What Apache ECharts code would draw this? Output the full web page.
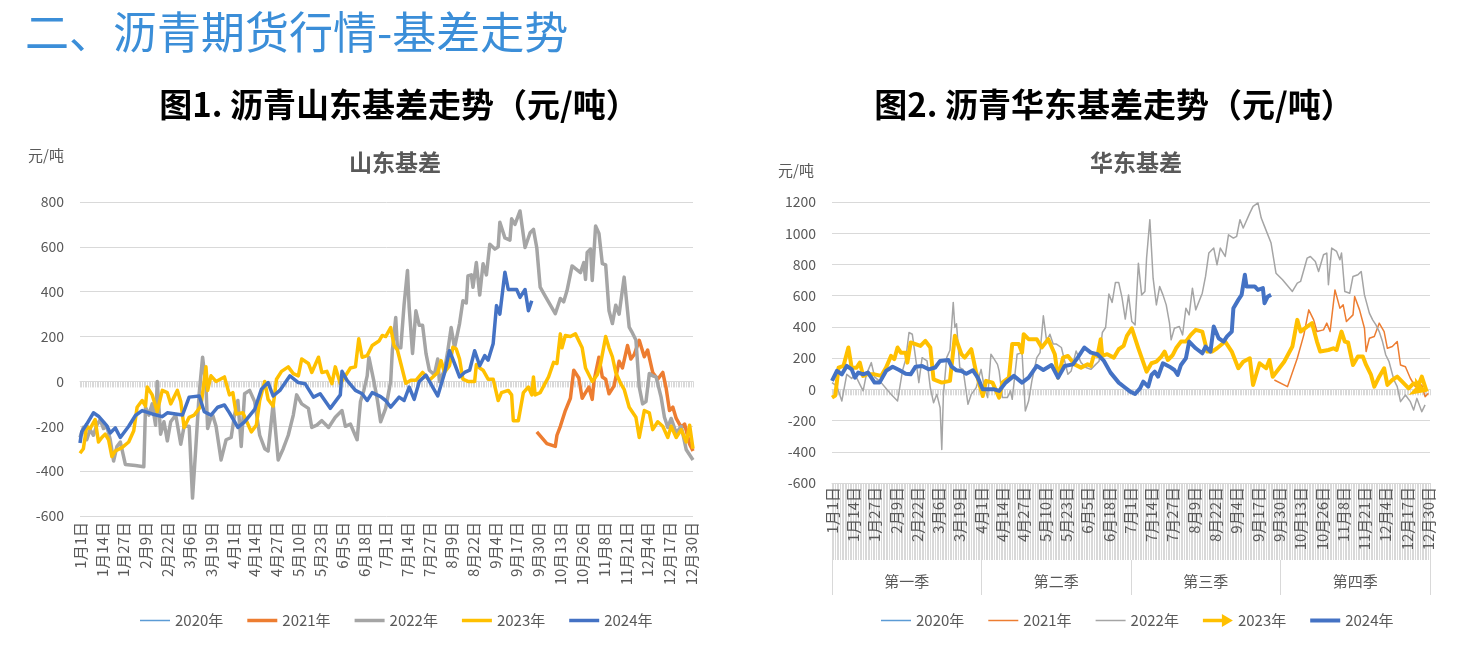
<!DOCTYPE html>
<html><head><meta charset="utf-8">
<script src="https://cdn.jsdelivr.net/npm/echarts@6/dist/echarts.min.js"></script>
<style>html,body{margin:0;padding:0;background:#fff}#c{width:1466px;height:652px}</style>
</head><body><div id="c"></div>
<script>
// ---- categories (leap-year calendar days, labelled every 13th day) ----
const monthDays = [31,29,31,30,31,30,31,31,30,31,30,31];
const dayCategories = [];
monthDays.forEach(function(n,i){ for (let d=1; d<=n; d++) dayCategories.push((i+1)+'月'+d+'日'); });
const quarterCategories = ['第一季','第二季','第三季','第四季'];
const seriesNames = ['2020年','2021年','2022年','2023年','2024年'];
const seriesColors = ['#5B9BD5','#ED7D31','#A5A5A5','#FFC000','#4472C4'];

// ---- 山东基差 : [day index, 元/吨] ----
const sd2020 = [];
const sd2021 = [[272,-225],[278,-277],[283,-290],[284,-240],[286,-200],[289,-130],[292,-75],[294,50],[297,15],[299,-75],[301,-50],[303,-25],[305,-80],[306,0],[309,108],[311,20],[313,10],[315,-55],[318,-20],[321,90],[323,60],[326,160],[328,100],[330,120],[333,183],[336,110],[338,140],[341,40],[344,10],[347,40],[349,-30],[351,-130],[353,-115],[355,-165],[358,-205],[360,-190],[363,-280],[365,-310]];
const sd2022 = [[0,-250],[2,-205],[4,-260],[6,-215],[8,-240],[10,-195],[12,-170],[14,-210],[16,-200],[18,-260],[20,-355],[22,-290],[24,-270],[27,-370],[33,-375],[38,-380],[39,-115],[41,-150],[43,-100],[45,-195],[46,0],[48,-235],[50,-180],[52,-265],[54,-180],[57,-150],[60,-280],[62,-200],[65,-200],[67,-520],[69,-290],[71,-50],[73,108],[75,-20],[76,-210],[78,-160],[79,-150],[81,-200],[84,-350],[87,-260],[90,-250],[92,-150],[94,-85],[96,-290],[98,-55],[101,-40],[104,-90],[107,-240],[110,-300],[112,-310],[115,-100],[118,-350],[121,-300],[124,-240],[127,-150],[129,-60],[132,-100],[136,-120],[138,-205],[141,-195],[144,-175],[148,-205],[152,-160],[156,-130],[158,-200],[161,-190],[165,-260],[167,-90],[169,-40],[171,25],[172,108],[175,0],[177,-80],[179,-180],[182,-120],[185,0],[186,140],[188,285],[189,150],[191,150],[193,345],[195,495],[196,330],[198,125],[200,315],[202,250],[204,250],[206,125],[208,50],[211,30],[213,100],[214,0],[217,50],[219,137],[221,240],[223,150],[226,258],[228,360],[230,350],[231,470],[233,475],[234,420],[236,530],[238,385],[240,525],[242,475],[244,612],[247,590],[249,600],[250,710],[253,640],[256,630],[257,725],[259,700],[262,760],[265,597],[268,663],[270,678],[272,595],[274,420],[277,380],[283,302],[286,370],[288,355],[290,405],[293,515],[298,485],[300,530],[301,455],[302,575],[304,590],[305,450],[307,693],[309,660],[311,525],[313,520],[315,315],[317,258],[319,340],[321,300],[324,465],[327,242],[329,215],[331,185],[333,-25],[335,-100],[337,-90],[339,35],[341,25],[343,20],[346,-70],[348,-160],[350,-205],[352,-165],[355,-230],[358,-200],[361,-305],[365,-350]];
const sd2023 = [[0,-320],[2,-300],[4,-200],[6,-210],[9,-170],[11,-270],[13,-250],[15,-235],[17,-260],[19,-335],[21,-310],[25,-295],[29,-270],[32,-220],[34,-115],[37,-85],[39,-110],[40,-25],[43,-60],[46,-135],[49,-40],[52,-50],[54,-100],[58,-40],[60,-90],[62,-205],[65,-160],[68,-150],[72,-110],[75,65],[76,-40],[78,25],[81,0],[86,20],[89,-60],[91,-50],[93,-145],[97,-140],[102,-225],[105,-195],[107,-85],[110,0],[112,-80],[115,-110],[117,10],[120,45],[124,65],[127,35],[130,25],[132,100],[136,80],[138,40],[142,108],[144,40],[147,45],[150,-10],[152,65],[155,-10],[158,25],[161,60],[164,65],[166,190],[168,108],[171,115],[174,160],[178,180],[180,205],[182,200],[185,240],[187,160],[189,140],[194,-8],[197,5],[200,5],[204,40],[208,5],[213,40],[215,93],[217,40],[220,70],[222,152],[224,145],[226,100],[228,10],[231,0],[235,0],[236,75],[238,60],[240,50],[243,10],[246,10],[249,-85],[251,-50],[255,-40],[257,-60],[258,-175],[261,-175],[264,-50],[267,-25],[269,-60],[270,20],[271,-60],[274,-50],[279,20],[282,85],[284,80],[286,212],[287,150],[289,205],[292,200],[295,212],[299,150],[301,60],[303,30],[305,0],[308,30],[310,80],[313,200],[315,150],[317,110],[319,40],[322,-10],[324,-35],[327,-115],[331,-160],[333,-250],[336,-130],[339,-140],[341,-215],[344,-180],[347,-200],[350,-250],[352,-200],[355,-250],[358,-215],[361,-270],[363,-195],[365,-300]];
const sd2024 = [[0,-275],[1,-225],[4,-190],[8,-140],[11,-155],[14,-180],[16,-198],[18,-230],[21,-207],[24,-250],[29,-200],[33,-152],[37,-130],[43,-145],[49,-157],[52,-140],[57,-145],[61,-150],[65,-70],[71,-65],[74,-135],[78,-150],[82,-115],[86,-105],[89,-140],[94,-205],[98,-180],[104,-125],[108,-35],[112,-5],[115,-65],[119,-40],[125,25],[130,-5],[134,-10],[139,-70],[143,-55],[149,-120],[155,-60],[156,45],[159,5],[164,-40],[168,-55],[171,-85],[174,-50],[179,-68],[182,-85],[185,-115],[190,-70],[193,-85],[196,-25],[199,-80],[202,0],[206,28],[210,-25],[213,-65],[217,35],[220,137],[223,80],[226,20],[229,40],[232,50],[235,137],[238,70],[241,115],[243,95],[246,168],[248,338],[250,300],[253,487],[255,410],[260,410],[262,375],[265,410],[267,315],[269,360]];

// ---- 华东基差 : [day index, 元/吨] ----
const hd2020 = [];
const hd2021 = [[270,60],[278,17],[284,199],[288,349],[291,509],[294,445],[296,370],[300,381],[302,424],[304,370],[307,637],[310,520],[312,541],[314,434],[318,477],[319,595],[322,509],[325,391],[326,242],[328,327],[331,338],[334,424],[337,370],[339,263],[342,274],[345,306],[347,156],[350,145],[353,71],[356,17],[360,28],[362,-47],[364,-26]];
const hd2022 = [[0,43],[3,20],[6,-75],[9,96],[12,70],[14,96],[17,32],[19,-10],[21,96],[24,171],[26,80],[30,43],[36,-32],[40,-75],[43,118],[45,193],[47,364],[49,353],[51,203],[53,43],[55,203],[58,182],[60,11],[62,-86],[64,-32],[66,-118],[67,-385],[68,-32],[70,203],[72,250],[74,557],[75,396],[76,420],[78,139],[80,128],[83,-96],[85,-32],[88,11],[91,128],[93,11],[95,-53],[97,225],[99,193],[101,160],[102,118],[104,-53],[107,-53],[109,-10],[110,-64],[113,225],[116,235],[118,-139],[120,-75],[122,54],[125,203],[127,235],[129,471],[131,310],[133,353],[135,290],[137,290],[140,268],[144,96],[146,118],[149,246],[152,171],[155,140],[158,128],[161,160],[163,180],[165,364],[167,396],[169,610],[171,557],[173,685],[175,685],[177,589],[179,450],[181,605],[183,434],[185,413],[187,808],[189,605],[191,627],[192,840],[194,1087],[196,712],[198,541],[200,659],[202,605],[204,541],[206,424],[207,317],[209,391],[212,402],[214,349],[216,520],[218,477],[220,648],[222,509],[226,616],[228,723],[230,873],[233,905],[235,798],[237,905],[240,851],[242,990],[245,969],[247,980],[249,1087],[251,1033],[255,1129],[257,1172],[260,1194],[262,1097],[264,1044],[268,937],[271,744],[275,702],[281,627],[284,680],[286,691],[290,840],[292,851],[295,819],[297,755],[300,862],[302,873],[303,670],[305,905],[308,883],[310,830],[311,873],[313,627],[316,616],[318,723],[321,734],[323,755],[325,605],[328,488],[330,445],[332,413],[334,370],[336,306],[338,220],[340,177],[343,60],[345,17],[347,-79],[350,-36],[353,-79],[355,-133],[357,-58],[360,-143],[362,-100]];
const hd2023 = [[0,-53],[2,-40],[4,139],[7,150],[10,268],[12,139],[15,139],[17,171],[19,86],[21,96],[26,96],[30,86],[33,139],[36,214],[38,193],[40,268],[42,235],[45,235],[46,171],[48,300],[51,290],[54,278],[57,310],[60,268],[62,64],[67,43],[72,54],[75,343],[79,225],[81,203],[85,257],[88,107],[92,-43],[94,54],[98,43],[102,-53],[104,43],[108,75],[110,290],[114,290],[116,235],[117,353],[120,321],[125,321],[128,268],[132,321],[136,225],[138,75],[141,203],[144,214],[148,160],[152,139],[156,160],[158,150],[160,225],[162,214],[164,321],[165,214],[168,225],[172,203],[175,257],[178,278],[180,343],[183,391],[187,263],[192,113],[195,167],[198,177],[201,210],[203,242],[205,188],[208,220],[210,263],[213,306],[216,306],[219,349],[222,381],[226,370],[229,242],[232,242],[235,263],[240,306],[244,242],[248,135],[251,177],[255,199],[257,28],[261,167],[265,135],[267,188],[269,81],[276,177],[281,274],[284,445],[286,370],[290,402],[293,424],[296,306],[298,242],[303,252],[306,263],[308,252],[311,370],[313,306],[315,300],[318,156],[321,210],[324,210],[326,156],[329,92],[331,17],[334,81],[337,135],[339,28],[342,60],[345,81],[348,49],[352,6],[355,38],[358,28],[360,81],[363,-15]];
const hd2024 = [[0,54],[3,118],[6,96],[9,150],[12,128],[14,75],[16,107],[19,96],[22,107],[26,43],[29,43],[33,118],[37,145],[41,124],[45,100],[48,96],[51,145],[55,150],[59,128],[63,140],[66,182],[71,188],[73,145],[76,122],[79,118],[82,100],[86,122],[89,75],[92,0],[95,0],[99,0],[102,-10],[106,43],[111,86],[116,43],[120,75],[125,150],[129,124],[134,156],[138,75],[142,150],[147,160],[150,203],[154,268],[158,235],[162,225],[166,182],[170,107],[175,43],[179,10],[182,-15],[185,-30],[188,6],[190,49],[193,17],[195,92],[197,113],[199,81],[202,167],[206,145],[209,124],[211,92],[213,156],[216,199],[218,306],[222,263],[226,231],[228,274],[231,242],[233,402],[236,327],[239,306],[241,338],[244,370],[245,520],[248,573],[250,605],[252,734],[253,659],[258,659],[260,637],[263,648],[264,552],[266,595],[268,605]];

const sdData = [sd2020, sd2021, sd2022, sd2023, sd2024];
const hdData = [hd2020, hd2021, hd2022, hd2023, hd2024];
const sdWidths = [1.5, 3.5, 3.5, 3.5, 3.5];
const hdWidths = [1.5, 1.5, 1.5, 4, 4];

const FONT = "'Noto Sans CJK SC', 'Microsoft YaHei', sans-serif";
const TXT = '#595959';
const GRIDC = '#d9d9d9';

const chart = echarts.init(document.getElementById('c'), null, {renderer:'canvas'});

function lineIcon(w){ const a = 7 - w/2, b = 7 + w/2; return 'path://M0,0 M0,'+a+' H30 V'+b+' H0 Z M30,14'; }
const arrowIcon = 'path://M0,0 M0,5.3 H19 V0.5 L30,7 L19,13.5 V8.7 H0 Z M30,14';

const series = [];
seriesNames.forEach(function(n,i){
  series.push({name:n, type:'line', xAxisIndex:0, yAxisIndex:0, data:sdData[i], symbol:'none', showSymbol:false,
    color:seriesColors[i], lineStyle:{width:sdWidths[i], color:seriesColors[i], join:'round'}, z:2+i});
});
seriesNames.forEach(function(n,i){
  const s = {name:n, type:'line', xAxisIndex:2, yAxisIndex:1, data:hdData[i], symbol:'none', showSymbol:false,
    color:seriesColors[i], lineStyle:{width:hdWidths[i], color:seriesColors[i], join:'round'}, z:2+i};
  if (n === '2023年' && hdData[i].length) {
    const last = hdData[i][hdData[i].length-1];
    s.markPoint = {symbol:'arrow', symbolSize:[14,16], symbolRotate:-110, silent:true, label:{show:false},
      itemStyle:{color:seriesColors[i]}, data:[{coord:last}]};
  }
  series.push(s);
});

function dayLabelAxis(grid, extra){
  return Object.assign({type:'category', gridIndex:grid, data:dayCategories, boundaryGap:false, position:'bottom',
    axisLine:{onZero:false, show:false}, axisTick:{show:false},
    axisLabel:{interval:12, rotate:90, fontSize:15, color:TXT, fontFamily:FONT, margin:6}}, extra||{});
}
function zeroAxis(grid){
  return {type:'category', gridIndex:grid, data:dayCategories, boundaryGap:false, position:'bottom',
    axisLine:{show:true, onZero:true, lineStyle:{color:GRIDC, width:1}},
    axisTick:{show:true, interval:0, length:6, lineStyle:{color:GRIDC, width:1}},
    axisLabel:{show:false}, splitLine:{show:false}, z:1};
}

const option = {
  backgroundColor:'#fff',
  animation:false,
  textStyle:{fontFamily:FONT},
  grid:[
    {left:80, right:773, top:202, bottom:136},
    {left:832, right:36, top:202, bottom:169}
  ],
  xAxis:[
    dayLabelAxis(0),
    zeroAxis(0),
    dayLabelAxis(1, {axisLine:{onZero:false, show:true, lineStyle:{color:GRIDC}},
      axisTick:{show:true, interval:0, length:77, lineStyle:{color:GRIDC, width:1}},
      axisLabel:{interval:12, rotate:90, fontSize:15, color:TXT, fontFamily:FONT, margin:4}}),
    {type:'category', gridIndex:1, data:quarterCategories, boundaryGap:true, position:'bottom', offset:77,
      axisLine:{show:false, onZero:false}, axisTick:{show:true, interval:0, length:35, lineStyle:{color:GRIDC}},
      axisLabel:{fontSize:15, color:TXT, fontFamily:FONT, margin:14}},
    zeroAxis(1)
  ],
  yAxis:[
    {type:'value', gridIndex:0, min:-600, max:800, interval:200,
      axisLine:{show:false}, axisTick:{show:false},
      axisLabel:{fontSize:14, color:TXT, fontFamily:FONT, margin:16, formatter:function(v){return String(v);}},
      splitLine:{lineStyle:{color:GRIDC, width:1}}},
    {type:'value', gridIndex:1, min:-600, max:1200, interval:200,
      axisLine:{show:false}, axisTick:{show:false},
      axisLabel:{fontSize:14, color:TXT, fontFamily:FONT, margin:16, formatter:function(v){return String(v);}},
      splitLine:{lineStyle:{color:GRIDC, width:1}}}
  ],
  legend:[
    {left:135, top:608, itemWidth:30, itemHeight:14, itemGap:24, selectedMode:false,
      itemStyle:{borderWidth:0}, textStyle:{fontSize:15, color:TXT, fontFamily:FONT},
      data:seriesNames.map(function(n,i){ return {name:n, icon:lineIcon(sdWidths[i])}; })},
    {left:876, top:608, itemWidth:30, itemHeight:14, itemGap:24, selectedMode:false,
      itemStyle:{borderWidth:0}, textStyle:{fontSize:15, color:TXT, fontFamily:FONT},
      data:seriesNames.map(function(n,i){ return {name:n, icon: n==='2023年' ? arrowIcon : lineIcon(hdWidths[i])}; })}
  ],
  graphic:[
    {type:'text', left:25, top:10, style:{text:'二、沥青期货行情-基差走势', fontSize:44, fill:'#3B8ED8', fontFamily:FONT}},
    {type:'text', x:399, y:104, style:{text:'图1. 沥青山东基差走势（元/吨）', fontSize:33, fontWeight:'bold', fill:'#000', fontFamily:FONT, textAlign:'center', textVerticalAlign:'middle'}},
    {type:'text', x:1114, y:104, style:{text:'图2. 沥青华东基差走势（元/吨）', fontSize:33, fontWeight:'bold', fill:'#000', fontFamily:FONT, textAlign:'center', textVerticalAlign:'middle'}},
    {type:'text', x:395, y:162, style:{text:'山东基差', fontSize:23, fontWeight:'bold', fill:TXT, fontFamily:FONT, textAlign:'center', textVerticalAlign:'middle'}},
    {type:'text', x:1136, y:162, style:{text:'华东基差', fontSize:23, fontWeight:'bold', fill:TXT, fontFamily:FONT, textAlign:'center', textVerticalAlign:'middle'}},
    {type:'text', x:28, y:155, style:{text:'元/吨', fontSize:15, fill:TXT, fontFamily:FONT, textVerticalAlign:'middle'}},
    {type:'text', x:778, y:170, style:{text:'元/吨', fontSize:15, fill:TXT, fontFamily:FONT, textVerticalAlign:'middle'}}
  ],
  series:series
};
chart.setOption(option);
</script></body></html>
